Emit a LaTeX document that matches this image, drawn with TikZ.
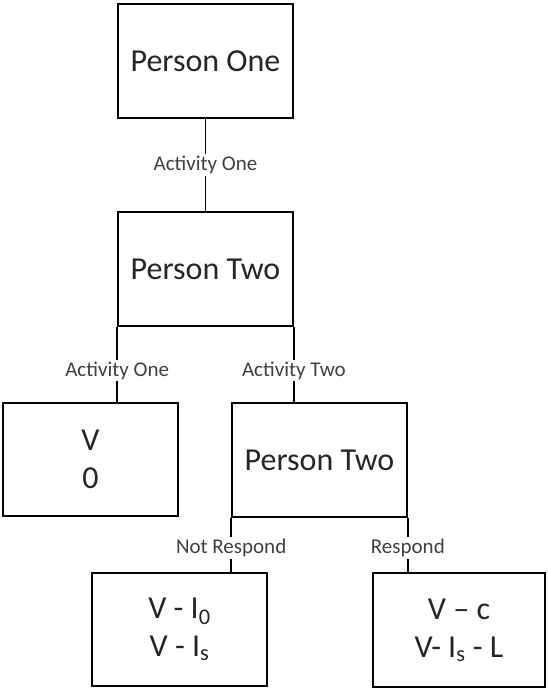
\documentclass[tikz,border=0pt]{standalone}
\usepackage{fontspec}
\setmainfont{Carlito}
\begin{document}
\begin{tikzpicture}[x=1pt,y=-1pt,
  box/.style={draw=black, line width=1.7pt, fill=white, minimum width=175pt,
    minimum height=114pt, inner sep=0pt, align=center, text=black!85,
    font=\fontsize{32}{38}\selectfont},
  lbl/.style={fill=white, inner sep=2pt, text=black!75,
    font=\fontsize{21}{25}\selectfont},
  conn/.style={line width=1.7pt}]
\useasboundingbox (0,0) rectangle (548,688);

\node[box] (p1) at (205.5,61) {Person One};
\node[box] (p2) at (205.5,269) {Person Two};
\node[box, minimum height=113pt] (v0) at (90.5,459.5) {V\\0};
\node[box] (p3) at (319.5,460) {Person Two};
\node[box, minimum height=113pt] (nr) at (179.5,629.5)
  {V - I\textsubscript{0}\\V - I\textsubscript{s}};
\node[box, minimum width=172pt] (rs) at (459,630)
  {V -- c\\V- I\textsubscript{s} - L};

\draw[conn] (p1.south) -- node[lbl]{Activity One} (p2.north);
\draw[conn] (p2.south west) -- node[lbl, pos=0.58]{Activity One} (p2.south west |- v0.north);
\draw[conn] (p2.south east) -- node[lbl, pos=0.58]{Activity Two} (p2.south east |- p3.north);
\draw[conn] (p3.south west) -- node[lbl, pos=0.56]{Not Respond} (p3.south west |- nr.north);
\draw[conn] (p3.south east) -- node[lbl, pos=0.56]{Respond} (p3.south east |- rs.north);
\end{tikzpicture}
\end{document}
